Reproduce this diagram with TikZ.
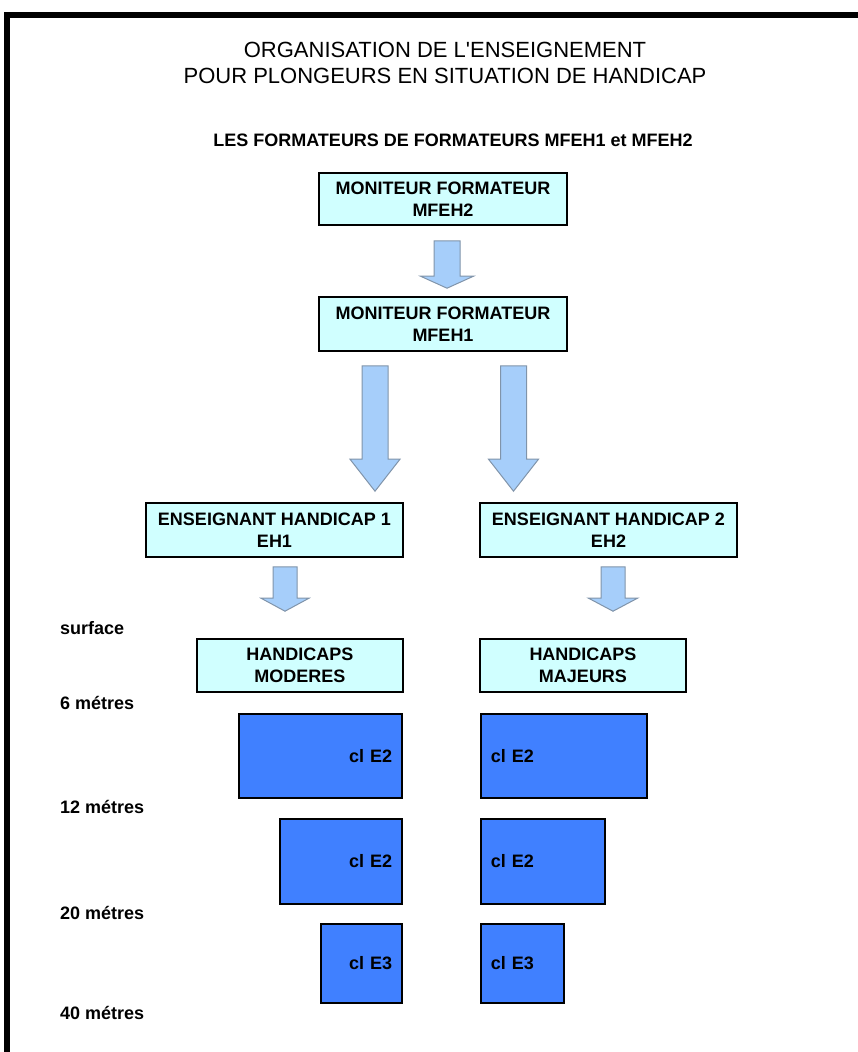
\documentclass[tikz,border=0pt]{standalone}
\usepackage{fontspec}
\setmainfont{Liberation Sans}
\usetikzlibrary{calc}

\definecolor{cyanfill}{RGB}{208,255,255}
\definecolor{niveau}{RGB}{64,128,255}
\definecolor{flechebleu}{RGB}{166,206,250}
\definecolor{flechebord}{RGB}{128,148,170}

% grosse fleche : depart, pointe, demi-tige, demi-tete, longueur tete
\newcommand\grossefleche[5]{%
  \draw[fleche] let \p1=#1, \p2=#2 in
    (\x1-#3pt,\y1) -- (\x1+#3pt,\y1) -- (\x1+#3pt,\y2+#5pt)
    -- (\x1+#4pt,\y2+#5pt) -- (\x1,\y2) -- (\x1-#4pt,\y2+#5pt)
    -- (\x1-#3pt,\y2+#5pt) -- cycle;}

\begin{document}
\begin{tikzpicture}[
  x=1pt, y=-1pt,
  every node/.style={font=\fontsize{18}{21.5}\selectfont\bfseries, inner sep=0pt},
  cadre/.style={draw=black, line width=1.6pt, fill=cyanfill, align=center},
  niveaubox/.style={draw=black, line width=1.6pt, fill=niveau, inner xsep=10pt}
]
\tikzset{
  fleche/.style={fill=flechebleu, draw=flechebord, line width=1pt, line join=miter}
}
\useasboundingbox (0,0) rectangle (858,1052);
\draw[line width=6pt] (7,1052) -- (7,15) -- (858,15);

\node[font=\fontsize{22}{26.5}\selectfont, align=center] (titre) at (445,63)
  {ORGANISATION DE L\textquotesingle ENSEIGNEMENT\\POUR PLONGEURS EN SITUATION DE HANDICAP};
\node (soustitre) at (453,140) {LES FORMATEURS DE FORMATEURS MFEH1 et MFEH2};

\node[cadre, minimum width=248pt, minimum height=52pt] (mfehdeux) at (443,199)
  {MONITEUR FORMATEUR\\MFEH2};
\node[cadre, minimum width=248pt, minimum height=54pt] (mfehun) at (443,324)
  {MONITEUR FORMATEUR\\MFEH1};
\node[cadre, minimum width=257pt, minimum height=54pt] (ehun) at (274.5,530)
  {ENSEIGNANT HANDICAP 1\\EH1};
\node[cadre, minimum width=257pt, minimum height=54pt] (ehdeux) at (608.5,530)
  {ENSEIGNANT HANDICAP 2\\EH2};
\node[cadre, minimum width=206pt, minimum height=53pt] (moderes) at (300,665.5)
  {HANDICAPS\\MODERES};
\node[cadre, minimum width=206pt, minimum height=53pt] (majeurs) at (583,665.5)
  {HANDICAPS\\MAJEURS};

% niveaux de profondeur
\foreach \nom/\texte/\y in {surf/surface/628, six/6 métres/703, douze/12 métres/807,
    vingt/20 métres/913, quarante/40 métres/1013}
  \node[anchor=west] (\nom) at (60,\y) {\texte};

\node[niveaubox, minimum width=163pt, minimum height=84pt, text width=143pt,
  align=right, anchor=north east] (gun) at (403,713) {cl E2};
\node[niveaubox, minimum width=122pt, minimum height=85pt, text width=102pt,
  align=right, anchor=north east] (gdeux) at (403,818) {cl E2};
\node[niveaubox, minimum width=81pt, minimum height=79pt, text width=61pt,
  align=right, anchor=north east] (gtrois) at (403,923) {cl E3};
\node[niveaubox, minimum width=166pt, minimum height=84pt, text width=146pt,
  align=left, anchor=north west] (dun) at (480,713) {cl E2};
\node[niveaubox, minimum width=124pt, minimum height=85pt, text width=104pt,
  align=left, anchor=north west] (ddeux) at (480,818) {cl E2};
\node[niveaubox, minimum width=83pt, minimum height=79pt, text width=63pt,
  align=left, anchor=north west] (dtrois) at (480,923) {cl E3};

% fleches
\grossefleche{($(mfehdeux.south)+(4,15)$)}{($(mfehun.north)+(4,-8)$)}{13}{26.5}{12}
\grossefleche{($(mfehun.south)+(-68,14)$)}{($(ehun.north)+(100.5,-11)$)}{13}{25}{32}
\grossefleche{($(mfehun.south)+(70.5,14)$)}{($(ehdeux.north)+(-95,-11)$)}{13}{25}{32}
\grossefleche{($(ehun.south)+(10.5,9)$)}{($(moderes.north)+(-15,-27)$)}{12}{24}{13}
\grossefleche{($(ehdeux.south)+(4.5,9)$)}{($(majeurs.north)+(30,-27)$)}{12}{24.5}{13}
\end{tikzpicture}
\end{document}
